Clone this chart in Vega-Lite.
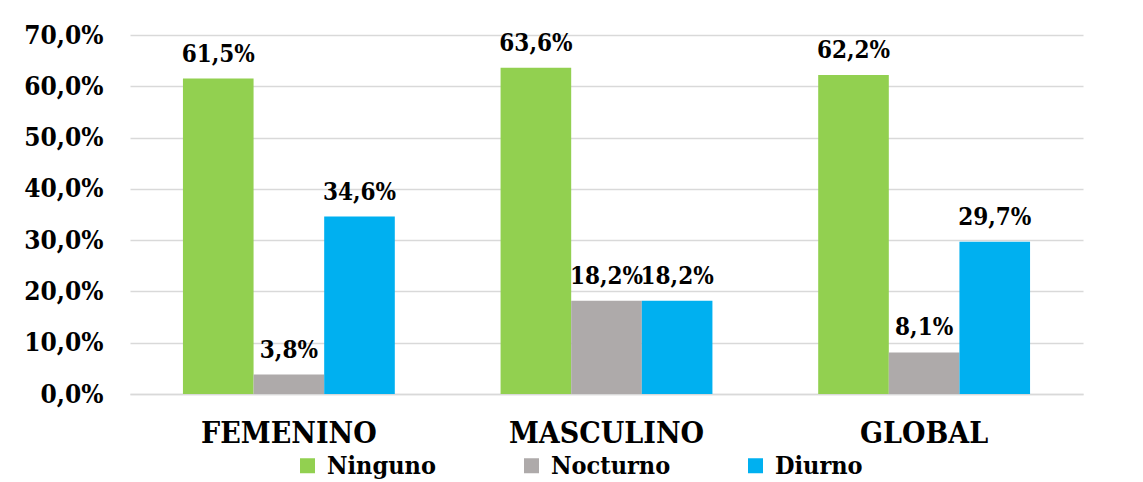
{
  "$schema": "https://vega.github.io/schema/vega-lite/v6.json",
  "width": 953,
  "height": 359,
  "autosize": {"type": "none"},
  "padding": {"left": 130, "top": 35, "right": 60, "bottom": 88},
  "background": "white",
  "config": {
    "locale": {"number": {"decimal": ",", "thousands": ".", "grouping": [3], "currency": ["", " €"]}},
    "font": "DejaVu Serif Condensed",
    "view": {"stroke": null}
  },
  "data": {
    "values": [
      {"grupo": "FEMENINO", "serie": "Ninguno", "valor": 0.615},
      {"grupo": "FEMENINO", "serie": "Nocturno", "valor": 0.038},
      {"grupo": "FEMENINO", "serie": "Diurno", "valor": 0.346},
      {"grupo": "MASCULINO", "serie": "Ninguno", "valor": 0.636},
      {"grupo": "MASCULINO", "serie": "Nocturno", "valor": 0.182},
      {"grupo": "MASCULINO", "serie": "Diurno", "valor": 0.182},
      {"grupo": "GLOBAL", "serie": "Ninguno", "valor": 0.622},
      {"grupo": "GLOBAL", "serie": "Nocturno", "valor": 0.081},
      {"grupo": "GLOBAL", "serie": "Diurno", "valor": 0.297}
    ]
  },
  "encoding": {
    "x": {
      "field": "grupo", "type": "nominal",
      "sort": ["FEMENINO", "MASCULINO", "GLOBAL"],
      "scale": {"paddingInner": 0.333, "paddingOuter": 0.1667},
      "axis": {
        "title": null, "labelAngle": 0, "ticks": false,
        "labelFont": "DejaVu Serif Condensed", "labelFontWeight": "bold", "labelFontSize": 30,
        "labelColor": "black", "labelPadding": 24, "labelBaseline": "top", "labelLimit": 400,
        "domainColor": "#D9D9D9", "domainWidth": 1.5, "grid": false
      }
    },
    "xOffset": {
      "field": "serie", "type": "nominal",
      "sort": ["Ninguno", "Nocturno", "Diurno"],
      "scale": {"paddingInner": 0, "paddingOuter": 0}
    },
    "y": {
      "field": "valor", "type": "quantitative",
      "scale": {"domain": [0, 0.7], "nice": false},
      "axis": {
        "title": null, "format": ".1%", "values": [0, 0.1, 0.2, 0.3, 0.4, 0.5, 0.6, 0.7],
        "ticks": false, "domain": false, "labelOverlap": false,
        "labelFont": "DejaVu Serif Condensed", "labelFontWeight": "bold", "labelFontSize": 26,
        "labelColor": "black", "labelPadding": 27,
        "gridColor": "#D9D9D9", "gridWidth": 1.5
      }
    }
  },
  "layer": [
    {
      "mark": {"type": "bar"},
      "encoding": {
        "color": {
          "field": "serie", "type": "nominal",
          "sort": ["Ninguno", "Nocturno", "Diurno"],
          "scale": {"domain": ["Ninguno", "Nocturno", "Diurno"], "range": ["#92D050", "#AEAAAA", "#00B0F0"]},
          "legend": {
            "title": null, "orient": "none", "direction": "horizontal",
            "legendX": 165, "legendY": 418, "columns": 3, "gridAlign": "all",
            "columnPadding": 72, "padding": 0,
            "symbolType": "square", "symbolSize": 225, "symbolStrokeWidth": 0,
            "labelFont": "DejaVu Serif Condensed", "labelFontWeight": "bold", "labelFontSize": 25,
            "labelColor": "black", "labelOffset": 7, "labelLimit": 400
          }
        }
      }
    },
    {
      "mark": {"type": "text", "baseline": "alphabetic", "dy": -17, "font": "DejaVu Serif Condensed", "fontWeight": "bold", "fontSize": 24, "color": "black"},
      "encoding": {
        "text": {"field": "valor", "type": "quantitative", "format": ".1%"}
      }
    }
  ]
}
